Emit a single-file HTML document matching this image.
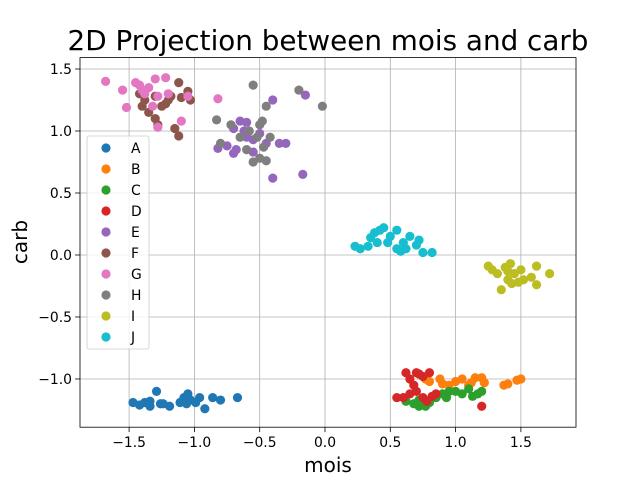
<!DOCTYPE html>
<html><head><meta charset="utf-8"><style>
body{margin:0;background:#fff;}
svg{display:block;font-family:"DejaVu Sans","Liberation Sans",sans-serif;}
</style></head><body>
<svg id="chart" width="640" height="480" xmlns="http://www.w3.org/2000/svg"></svg>
<script>
const categories=["A","B","C","D","E","F","G","H","I","J"];
const colors=["#1f77b4","#ff7f0e","#2ca02c","#d62728","#9467bd","#8c564b","#e377c2","#7f7f7f","#bcbd22","#17becf"];
const xTicks=[-1.5,-1.0,-0.5,0.0,0.5,1.0,1.5];
const yTicks=[-1.0,-0.5,0.0,0.5,1.0,1.5];
const seriesA=[[-1.47,-1.19],[-1.42,-1.21],[-1.38,-1.19],[-1.34,-1.22],[-1.29,-1.10],[-1.26,-1.20],[-1.19,-1.22],[-1.11,-1.19],[-1.08,-1.15],[-1.05,-1.12],[-1.03,-1.17],[-0.99,-1.19],[-0.96,-1.15],[-0.92,-1.24],[-0.86,-1.15],[-0.80,-1.17],[-0.67,-1.15],[-1.34,-1.18],[-1.24,-1.20],[-1.06,-1.20]];
const seriesB=[[0.8,-1.02],[0.88,-1.0],[0.95,-1.05],[1.0,-1.02],[1.05,-1.0],[1.1,-1.05],[1.15,-0.99],[1.2,-0.99],[1.22,-1.03],[1.37,-1.05],[1.4,-1.04],[1.47,-1.01],[1.5,-1.0],[0.9,-1.04],[1.12,-1.03],[0.77,-1.0]];
const seriesC=[[0.62,-1.18],[0.68,-1.2],[0.72,-1.17],[0.77,-1.22],[0.8,-1.19],[0.85,-1.15],[0.9,-1.12],[0.95,-1.1],[1.0,-1.1],[1.05,-1.12],[1.1,-1.08],[1.13,-1.14],[1.2,-1.1],[0.93,-1.15],[0.72,-1.22],[1.17,-1.12]];
const seriesD=[[0.62,-0.95],[0.65,-1.0],[0.7,-0.95],[0.75,-0.98],[0.8,-0.95],[0.6,-1.15],[0.65,-1.12],[0.7,-1.1],[0.75,-1.15],[0.78,-1.18],[0.85,-1.12],[0.55,-1.15],[1.2,-1.22],[0.68,-1.05],[0.72,-0.96],[0.82,-1.14]];
const seriesE=[[-0.82,0.86],[-0.75,0.88],[-0.7,0.82],[-0.68,0.85],[-0.65,1.08],[-0.6,1.07],[-0.6,0.95],[-0.55,0.93],[-0.5,0.98],[-0.45,0.9],[-0.4,1.25],[-0.4,0.62],[-0.35,0.9],[-0.3,0.9],[-0.17,0.65],[-0.15,1.29],[-0.55,0.83],[-0.62,1.0],[-0.7,1.02]];
const seriesF=[[-1.42,1.3],[-1.4,1.2],[-1.35,1.15],[-1.3,1.1],[-1.28,1.05],[-1.25,1.2],[-1.2,1.25],[-1.18,1.28],[-1.15,1.02],[-1.12,0.96],[-1.12,1.39],[-1.1,1.27],[-1.05,1.32],[-1.03,1.25],[-1.38,1.25],[-1.3,1.28],[-1.22,1.22]];
const seriesG=[[-1.68,1.4],[-1.55,1.33],[-1.52,1.19],[-1.45,1.39],[-1.42,1.37],[-1.38,1.3],[-1.35,1.35],[-1.3,1.42],[-1.28,1.28],[-1.22,1.43],[-1.2,1.3],[-1.1,1.08],[-1.05,1.28],[-0.82,1.26],[-1.4,1.33],[-1.32,1.2],[-1.28,1.03]];
const seriesH=[[-0.83,1.09],[-0.8,0.9],[-0.72,1.05],[-0.65,0.95],[-0.6,0.85],[-0.55,0.75],[-0.55,1.37],[-0.5,1.05],[-0.5,0.78],[-0.47,0.87],[-0.45,1.2],[-0.45,0.76],[-0.42,0.95],[-0.2,1.33],[-0.02,1.2],[-0.52,0.95],[-0.48,1.08],[-0.58,1.0]];
const seriesI=[[1.25,-0.09],[1.28,-0.12],[1.32,-0.15],[1.35,-0.28],[1.38,-0.1],[1.4,-0.2],[1.42,-0.07],[1.45,-0.15],[1.48,-0.22],[1.5,-0.12],[1.52,-0.2],[1.58,-0.18],[1.62,-0.09],[1.62,-0.24],[1.72,-0.15],[1.43,-0.23],[1.4,-0.13]];
const seriesJ=[[0.23,0.07],[0.27,0.05],[0.33,0.07],[0.35,0.14],[0.38,0.18],[0.42,0.2],[0.45,0.22],[0.48,0.1],[0.5,0.15],[0.55,0.2],[0.55,0.05],[0.6,0.1],[0.62,0.05],[0.65,0.15],[0.7,0.08],[0.72,0.12],[0.75,0.02],[0.82,0.02],[0.4,0.1],[0.58,0.03]];
const allSeries=[seriesA,seriesB,seriesC,seriesD,seriesE,seriesF,seriesG,seriesH,seriesI,seriesJ];

const L=80,R=576,T=57.6,B=427.2;
const xMin=-1.876,xMax=1.922,yMin=-1.389,yMax=1.592;
const sx=v=>L+(v-xMin)/(xMax-xMin)*(R-L);
const sy=v=>B-(v-yMin)/(yMax-yMin)*(B-T);
const svg=document.getElementById('chart');
const NS='http://www.w3.org/2000/svg';
function mk(tag,attrs,parent){const e=document.createElementNS(NS,tag);for(const k in attrs)e.setAttribute(k,attrs[k]);(parent||svg).appendChild(e);return e;}

const grid=mk('g',{});


xTicks.forEach(v=>{const x=sx(v);
 mk('line',{x1:x,x2:x,y1:T,y2:B,stroke:'#b0b0b0','stroke-width':0.8},grid);
 mk('line',{x1:x,x2:x,y1:B,y2:B+4.9,stroke:'#000','stroke-width':0.8},grid);
 const t=mk('text',{x:x,y:B+20,'text-anchor':'middle','font-size':'13.9px',fill:'#000'});
 
 
 t.textContent=v.toFixed(1).replace('-','\u2212');});
yTicks.forEach(v=>{const y=sy(v);
 mk('line',{x1:L,x2:R,y1:y,y2:y,stroke:'#b0b0b0','stroke-width':0.8},grid);
 mk('line',{x1:L-4.9,x2:L,y1:y,y2:y,stroke:'#000','stroke-width':0.8},grid);
 const t=mk('text',{x:L-8,y:y+5,'text-anchor':'end','font-size':'13.9px',fill:'#000'});
 
 
 t.textContent=v.toFixed(1).replace('-','\u2212');});

allSeries.forEach((s,i)=>{const g=mk('g',{fill:colors[i]});
 
 
 s.forEach(p=>{const c=mk('circle',{cx:sx(p[0]),cy:sy(p[1]),r:4.6},g);
  
  });});

const frame=mk('rect',{x:L,y:T,width:R-L,height:B-T,fill:'none',stroke:'#000','stroke-width':0.8});



const lg=mk('g',{});


mk('rect',{x:87,y:136,width:62,height:213,rx:2,fill:'#fff','fill-opacity':0.8,stroke:'#ccc','stroke-width':0.8},lg);
categories.forEach((c,i)=>{const y=148+i*21;
 const e=mk('g',{},lg);
 
 
 mk('circle',{cx:106,cy:y,r:4.6,fill:colors[i]},e);
 const t=mk('text',{x:131,y:y+5,'font-size':'13.9px',fill:'#000'},e);
 t.textContent=c;});

const title=mk('text',{x:328,y:50,'text-anchor':'middle','font-size':'27.8px',fill:'#000'});


title.textContent='2D Projection between mois and carb';
const xl=mk('text',{x:328,y:472,'text-anchor':'middle','font-size':'20px',fill:'#000'});


xl.textContent='mois';
const yl=mk('text',{x:0,y:0,'text-anchor':'middle','font-size':'20px',fill:'#000',transform:'translate(27,242) rotate(-90)'});


yl.textContent='carb';
</script>
</body></html>
